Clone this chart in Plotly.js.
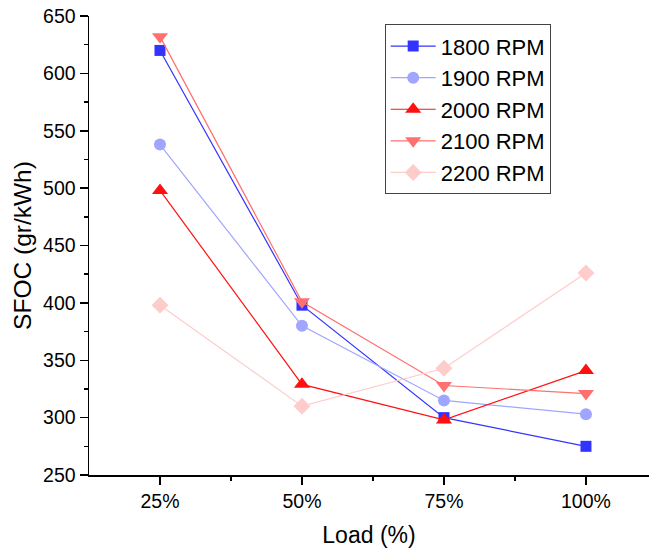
<!DOCTYPE html>
<html>
<head>
<meta charset="utf-8">
<script src="https://cdn.plot.ly/plotly-3.0.1.min.js"></script>
<style>html,body{margin:0;padding:0;background:#fff;}#chart{width:649px;height:548px;}</style>
</head>
<body>
<div id="chart"></div>
<script>
const loads = [25, 50, 75, 100];
const loadLabels = ['25%', '50%', '75%', '100%'];
const seriesNames = ['1800 RPM', '1900 RPM', '2000 RPM', '2100 RPM', '2200 RPM'];
const rpm1800 = [620, 398, 300, 275];
const rpm1900 = [538, 380, 315, 303];
const rpm2000 = [498, 329, 298, 341];
const rpm2100 = [632, 401, 328, 321];
const rpm2200 = [398, 310, 343, 426];

const seriesValues = [rpm1800, rpm1900, rpm2000, rpm2100, rpm2200];
const colors = ['#3333FF', '#A0A6FF', '#FF1010', '#FF7070', '#FFCCCC'];
const symbols = ['square', 'circle', 'triangle-up', 'triangle-down', 'diamond'];
const sizes = [11, 12, 14, 14, 13];

const traces = seriesValues.map((vals, i) => ({
  x: loads,
  y: vals,
  name: seriesNames[i],
  type: 'scatter',
  mode: 'lines+markers',
  line: {color: colors[i], width: 1.2},
  marker: {color: colors[i], symbol: symbols[i], size: sizes[i], line: {width: 0}}
}));

const font = 'Liberation Sans, Arial, sans-serif';
const layout = {
  width: 649,
  height: 548,
  margin: {l: 89, r: 0, t: 16, b: 73},
  paper_bgcolor: '#fff',
  plot_bgcolor: '#fff',
  showlegend: true,
  font: {family: font, color: '#000'},
  xaxis: {
    range: [12.5, 111.1],
    tickvals: loads,
    ticktext: loadLabels,
    ticks: 'outside',
    ticklen: 8,
    tickwidth: 1.5,
    tickcolor: '#000',
    showline: true,
    linecolor: '#000',
    linewidth: 1.5,
    showgrid: false,
    zeroline: false,
    tickfont: {size: 19.5, family: font},
    minor: {tickvals: [37.5, 62.5, 87.5], ticks: 'outside', ticklen: 4, tickwidth: 1.5, tickcolor: '#000', showgrid: false},
    title: {text: 'Load (%)', font: {size: 23, family: font}, standoff: 16}
  },
  yaxis: {
    range: [250, 650],
    dtick: 50,
    ticks: 'outside',
    ticklen: 8,
    tickwidth: 1.5,
    tickcolor: '#000',
    showline: true,
    linecolor: '#000',
    linewidth: 1.5,
    showgrid: false,
    zeroline: false,
    tickfont: {size: 19.5, family: font},
    minor: {dtick: 25, ticks: 'outside', ticklen: 4, tickwidth: 1.5, tickcolor: '#000', showgrid: false},
    title: {text: 'SFOC (gr/kWh)', font: {size: 24.5, family: font}, standoff: 4}
  },
  legend: {
    x: 0.528,
    y: 0.982,
    xanchor: 'left',
    yanchor: 'top',
    bgcolor: '#fff',
    bordercolor: '#444',
    borderwidth: 1,
    itemwidth: 45,
    font: {size: 22, family: font},
    tracegroupgap: 0
  }
};

Plotly.newPlot('chart', traces, layout, {displayModeBar: false, staticPlot: true});
</script>
</body>
</html>
